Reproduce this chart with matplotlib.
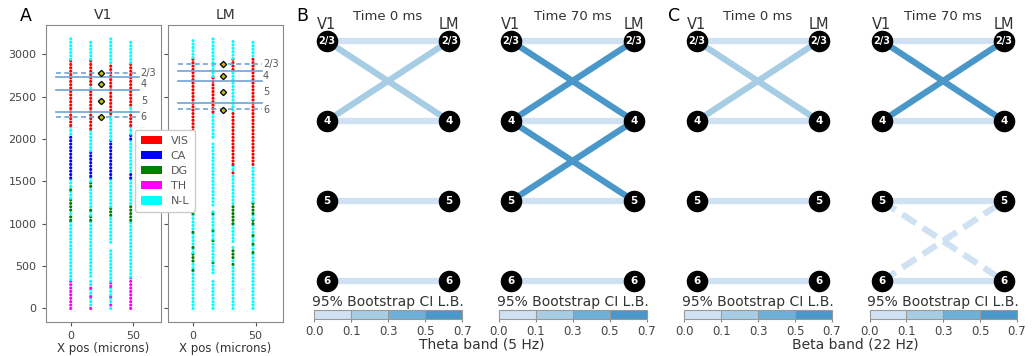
import numpy as np
import matplotlib
matplotlib.use("Agg")
import matplotlib.pyplot as plt
from matplotlib.colors import ListedColormap, BoundaryNorm
from matplotlib.cm import ScalarMappable
from matplotlib.patches import Patch

# ---------------- data ----------------
region_names = ["VIS", "CA", "DG", "TH", "N-L"]
region_colors = {"VIS": "#ff0000", "CA": "#0000ff", "DG": "#008000",
                 "TH": "#ff00ff", "N-L": "#00ffff"}
column_x = [0, 16, 32, 48]
channel_step = 40

# probe segments per column: (y_start, y_end, region)
v1_columns = [
    [(0, 340, "TH"), (340, 1040, "N-L"), (1040, 1120, "DG"), (1120, 1160, "N-L"),
     (1160, 1300, "DG"), (1300, 1400, "N-L"), (1400, 1440, "DG"), (1440, 1540, "N-L"),
     (1540, 2060, "CA"), (2060, 2160, "N-L"), (2160, 2940, "VIS"), (2940, 3190, "N-L")],
    [(0, 40, "TH"), (40, 140, "N-L"), (140, 180, "TH"), (180, 240, "N-L"), (240, 280, "TH"),
     (280, 340, "N-L"), (380, 1040, "N-L"), (1040, 1100, "DG"), (1100, 1160, "N-L"),
     (1160, 1200, "DG"), (1200, 1440, "N-L"), (1440, 1500, "DG"), (1500, 1560, "N-L"),
     (1560, 1860, "CA"), (1860, 2120, "N-L"), (2120, 2600, "VIS"), (2600, 2640, "N-L"),
     (2640, 2940, "VIS"), (2940, 3170, "N-L")],
    [(0, 40, "N-L"), (40, 80, "TH"), (80, 140, "N-L"), (140, 160, "TH"), (160, 260, "N-L"),
     (260, 320, "TH"), (320, 720, "N-L"), (780, 1100, "N-L"), (1100, 1200, "DG"),
     (1200, 1540, "N-L"), (1540, 1990, "CA"), (1990, 2300, "N-L"), (2300, 2900, "VIS"),
     (2900, 3190, "N-L")],
    [(0, 370, "TH"), (370, 1040, "N-L"), (1040, 1240, "DG"), (1240, 1540, "N-L"),
     (1540, 1620, "CA"), (1620, 2000, "N-L"), (2000, 2060, "CA"), (2060, 2160, "N-L"),
     (2160, 2320, "VIS"), (2320, 2400, "N-L"), (2400, 2900, "VIS"), (2900, 3170, "N-L")],
]
lm_columns = [
    [(0, 450, "N-L"), (450, 480, "DG"), (480, 560, "N-L"), (560, 660, "DG"), (660, 720, "N-L"),
     (720, 760, "DG"), (760, 900, "N-L"), (900, 940, "DG"), (940, 1120, "N-L"),
     (1120, 1200, "DG"), (1200, 1220, "N-L"), (1220, 1260, "DG"), (1260, 1500, "N-L"),
     (1500, 1540, "DG"), (1540, 1660, "N-L"), (1660, 2960, "VIS"), (2960, 3180, "N-L")],
    [(0, 360, "N-L"), (420, 540, "N-L"), (540, 560, "DG"), (560, 800, "N-L"), (800, 820, "DG"),
     (820, 920, "N-L"), (920, 940, "DG"), (940, 1120, "N-L"), (1120, 1140, "DG"),
     (1140, 1160, "N-L"), (1220, 1960, "N-L"), (2020, 2320, "N-L"), (2320, 2740, "VIS"),
     (2740, 3200, "N-L")],
    [(0, 520, "N-L"), (520, 560, "DG"), (560, 600, "N-L"), (600, 720, "DG"), (720, 740, "N-L"),
     (790, 1000, "N-L"), (1000, 1240, "DG"), (1240, 1570, "N-L"), (1600, 1640, "VIS"),
     (1640, 1700, "N-L"), (1700, 2340, "VIS"), (2340, 2820, "N-L"), (2820, 2950, "VIS"),
     (2950, 3180, "N-L")],
    [(0, 660, "N-L"), (660, 700, "DG"), (700, 760, "N-L"), (760, 800, "DG"), (800, 860, "N-L"),
     (860, 900, "DG"), (900, 1000, "N-L"), (1000, 1060, "DG"), (1060, 1120, "N-L"),
     (1120, 1260, "DG"), (1260, 1700, "N-L"), (1700, 2980, "VIS"), (2980, 3150, "N-L")],
]

layer_labels = ["2/3", "4", "5", "6"]
v1_layer_centers = [2782, 2650, 2450, 2257]
lm_layer_centers = [2884, 2748, 2552, 2345]
v1_bounds_solid = [2727, 2577, 2321]
v1_bounds_dashed = [2782, 2258]
lm_bounds_solid = [2802, 2688, 2420]
lm_bounds_dashed = [2884, 2349]
marker_x = 24

# network edges: (V1 layer index, LM layer index, CI lower bound); negative -> dashed
theta_t0 = [(0, 0, 0.05), (0, 1, 0.2), (1, 0, 0.2), (1, 1, 0.05), (2, 2, 0.05), (3, 3, 0.05)]
theta_t70 = [(0, 0, 0.05), (0, 1, 0.6), (1, 0, 0.6), (1, 1, 0.05), (1, 2, 0.6), (2, 1, 0.6),
             (2, 2, 0.05), (3, 3, 0.05)]
beta_t0 = [(0, 0, 0.05), (0, 1, 0.2), (1, 0, 0.2), (1, 1, 0.05), (2, 2, 0.05), (3, 3, 0.05)]
beta_t70 = [(0, 0, 0.05), (0, 1, 0.6), (1, 0, 0.6), (1, 1, 0.05), (2, 2, 0.05),
            (2, 3, -0.05), (3, 2, -0.05), (3, 3, 0.05)]
cbar_bounds = [0.0, 0.1, 0.3, 0.5, 0.7]
cbar_colors = ["#cfe1f2", "#a6cde4", "#6eb0d8", "#4a98c9"]

# ---------------- figure ----------------
W, H = 1036, 356
fig = plt.figure(figsize=(W / 100, H / 100), dpi=100)
TXT = "#333333"


def px_ax(l, t, r, b):
    return fig.add_axes([l / W, 1 - b / H, (r - l) / W, (b - t) / H])


def probe_panel(ax, columns, centers, solid, dashed, title, show_labels):
    xs, ys, cs = [], [], []
    for cx, segs in zip(column_x, columns):
        for y0, y1, reg in segs:
            yy = np.arange(y0, y1, channel_step)
            xs.extend([cx] * len(yy))
            ys.extend(yy)
            cs.extend([region_colors[reg]] * len(yy))
    ax.scatter(xs, ys, c=cs, s=5, marker="o", linewidths=0, zorder=2)
    for yb in solid:
        ax.plot([-12, 55], [yb, yb], color="#6fa3d3", lw=1.2, zorder=3)
    for yb in dashed:
        ax.plot([-12, 55], [yb, yb], color="#6fa3d3", lw=1.2, ls="--", dashes=(3, 2), zorder=3)
    ax.plot([marker_x] * len(centers), centers, "D", ms=3.2, mfc="#c8c400", mec="k",
            mew=0.9, ls="none", zorder=4)
    for lab, yc in zip(layer_labels, centers):
        ax.text(56, yc, lab, fontsize=7, color="#555555", va="center", ha="left")
    ax.set_xlim(-20, 72)
    ax.set_ylim(-160, 3345)
    ax.set_xticks([0, 50])
    ax.set_yticks([0, 500, 1000, 1500, 2000, 2500, 3000])
    if not show_labels:
        ax.set_yticklabels([])
    ax.tick_params(labelsize=8, colors="#444444", length=3, color="#555555")
    ax.set_xlabel("X pos (microns)", fontsize=8.5, color=TXT, labelpad=1)
    ax.set_title(title, fontsize=10, color=TXT, pad=4)
    for s in ax.spines.values():
        s.set_color("#888888")


axV1 = px_ax(45.7, 25, 160.7, 322)
axLM = px_ax(168, 25, 283, 322)
probe_panel(axV1, v1_columns, v1_layer_centers, v1_bounds_solid, v1_bounds_dashed, "V1", True)
probe_panel(axLM, lm_columns, lm_layer_centers, lm_bounds_solid, lm_bounds_dashed, "LM", False)

handles = [Patch(facecolor=region_colors[r], edgecolor="none") for r in region_names]
fig.legend(handles, region_names, loc="upper left", bbox_to_anchor=(135 / W, 1 - 130 / H),
           borderaxespad=0, fontsize=8, labelcolor="#555555", handlelength=1.9,
           handleheight=0.8, labelspacing=0.45, borderpad=0.5, handletextpad=0.8,
           framealpha=1, edgecolor="#cccccc", fancybox=True)

cmap = ListedColormap(cbar_colors)
norm = BoundaryNorm(cbar_bounds, cmap.N)

TOP, DY = 41, 80


def network(vx, lx, edges, title):
    sx = lx - vx
    ax = px_ax(vx - 0.3 * sx, TOP - 0.3 * DY, lx + 0.3 * sx, TOP + 3.3 * DY)
    ax.set_xlim(-0.3, 1.3)
    ax.set_ylim(3.3, -0.3)
    ax.axis("off")
    for i, j, v in edges:
        col = cmap(norm(abs(v)))
        if v < 0:
            ax.plot([0, 1], [i, j], color=col, lw=4.5, ls="--", dashes=(2.6, 1.3),
                    solid_capstyle="butt", dash_capstyle="butt", zorder=1)
        else:
            ax.plot([0, 1], [i, j], color=col, lw=4.5, solid_capstyle="butt", zorder=1)
    for xn in (0, 1):
        ax.plot([xn] * 4, range(4), "o", ms=14.5, color="k", ls="none", zorder=3,
                clip_on=False)
        for k, lab in enumerate(layer_labels):
            ax.text(xn, k, lab, color="white", fontsize=7.5 if lab != "2/3" else 7,
                    fontweight="bold", ha="center", va="center", zorder=4)
    ax.text(0, -0.21, "V1", fontsize=10.5, color=TXT, ha="center", va="center")
    ax.text(1, -0.21, "LM", fontsize=10.5, color=TXT, ha="center", va="center")
    ax.text(0.5, -0.31, title, fontsize=9.5, color=TXT, ha="center", va="center")
    # colorbar
    cl, cr = vx - 12.4, lx + 13
    cax = px_ax(cl, 310, cr, 319)
    cb = fig.colorbar(ScalarMappable(norm=norm, cmap=cmap), cax=cax,
                      orientation="horizontal", ticks=cbar_bounds, drawedges=True)
    cb.ax.set_xticklabels(["%.1f" % b for b in cbar_bounds])
    cb.ax.tick_params(labelsize=8.5, colors="#444444", length=2.5, color="#888888", pad=1.5)
    cb.outline.set_edgecolor("#999999")
    cb.outline.set_linewidth(0.8)
    cb.dividers.set_color("#999999")
    cb.dividers.set_linewidth(0.8)
    fig.text((cl + cr) / 2 / W, 1 - 302 / H, "95% Bootstrap CI L.B.", fontsize=10,
             color=TXT, ha="center", va="center")


network(326.7, 449.3, theta_t0, "Time 0 ms")
network(511, 634, theta_t70, "Time 70 ms")
network(696.7, 819, beta_t0, "Time 0 ms")
network(882, 1004, beta_t70, "Time 70 ms")

fig.text(482 / W, 1 - 344 / H, "Theta band (5 Hz)", fontsize=10, color=TXT,
         ha="center", va="center")
fig.text(855 / W, 1 - 344 / H, "Beta band (22 Hz)", fontsize=10, color=TXT,
         ha="center", va="center")

fig.text(26 / W, 1 - 16 / H, "A", fontsize=12.5, ha="center", va="center")
fig.text(302 / W, 1 - 16 / H, "B", fontsize=12.5, ha="center", va="center")
fig.text(674 / W, 1 - 16 / H, "C", fontsize=12.5, ha="center", va="center")

fig.savefig("out.png", dpi=100)
